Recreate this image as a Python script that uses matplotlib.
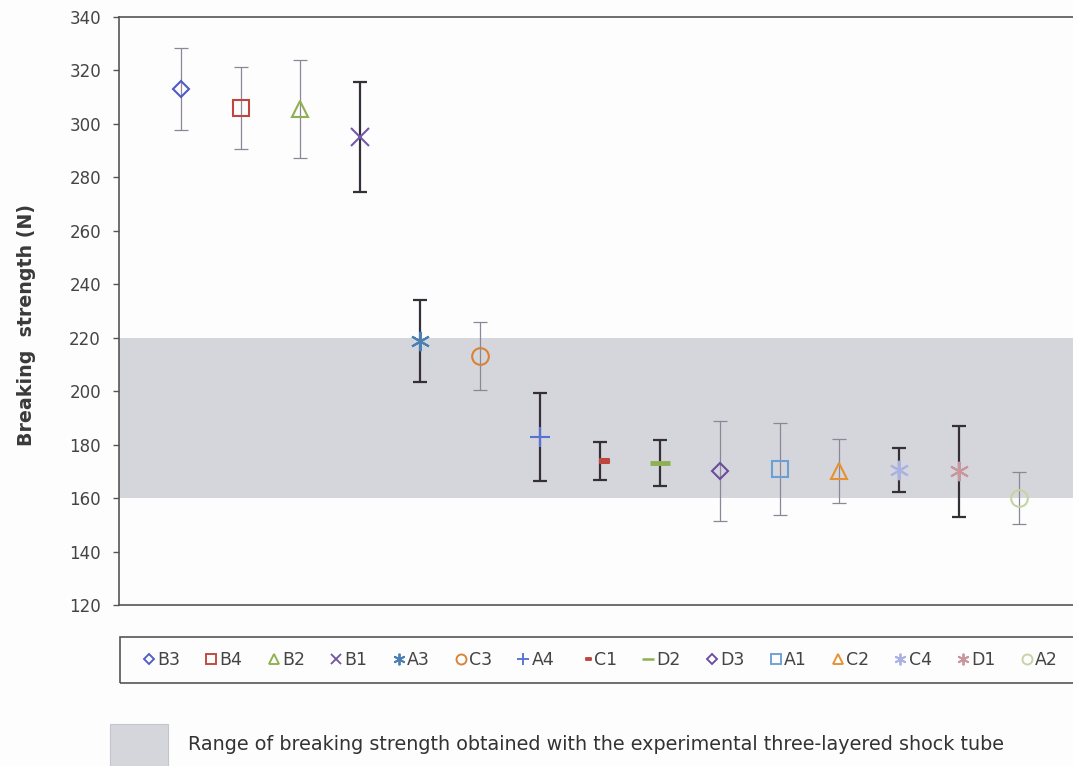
import numpy as np
import matplotlib.pyplot as plt
from matplotlib.path import Path
from matplotlib.patches import Rectangle

# sample names, mean breaking strength and standard deviation (N)
samples = ["B3", "B4", "B2", "B1", "A3", "C3", "A4", "C1", "D2", "D3", "A1", "C2", "C4", "D1", "A2"]
strength = [313, 306, 305.6, 295, 218.8, 213.2, 183, 174, 173, 170, 171, 170, 170.5, 170, 160]
std_dev = [15.3, 15.4, 18.3, 20.6, 15.3, 12.7, 16.5, 7.1, 8.6, 18.7, 17.2, 12.0, 8.4, 17.0, 9.6]
shock_tube_range = (160, 220)

# little dash sitting right of the point, as in the spreadsheet marker
short_dash = Path([(0, -0.2), (1, -0.2), (1, 0.2), (0, 0.2), (0, -0.2)],
                  [Path.MOVETO, Path.LINETO, Path.LINETO, Path.LINETO, Path.CLOSEPOLY])
asterisk = (6, 2, 0)

styles = {
    "B3": dict(marker="D", color="#4f5cc4", ms=8, filled=False),
    "B4": dict(marker="s", color="#c0453e", ms=11.5, filled=False),
    "B2": dict(marker="^", color="#8fb050", ms=12, filled=False),
    "B1": dict(marker="x", color="#7458a8", ms=13, filled=False),
    "A3": dict(marker=asterisk, color="#4a80b4", ms=14, filled=False),
    "C3": dict(marker="o", color="#d98235", ms=12, filled=False),
    "A4": dict(marker="+", color="#5672d6", ms=14, filled=False),
    "C1": dict(marker=short_dash, color="#c0453e", ms=13, filled=True),
    "D2": dict(marker="_", color="#8fb050", ms=14, filled=False, mew=3.5),
    "D3": dict(marker="D", color="#6a4c9c", ms=8, filled=False),
    "A1": dict(marker="s", color="#6c9fd4", ms=11.5, filled=False),
    "C2": dict(marker="^", color="#e6902e", ms=12, filled=False),
    "C4": dict(marker=asterisk, color="#aab2e4", ms=14, filled=False),
    "D1": dict(marker=asterisk, color="#c8969c", ms=14, filled=False),
    "A2": dict(marker="o", color="#c4d4a4", ms=12, filled=False),
}
# which bars came out dark/thick and which thin/grey
dark_bars = {"B1", "A3", "A4", "C1", "D2", "C4", "D1"}

fig = plt.figure(figsize=(10.73, 7.66), dpi=100)
fig.patch.set_facecolor("#fdfdfd")
ax = fig.add_axes([0.1109, 0.2102, 0.893, 0.7676])
ax.set_facecolor("#fdfdfd")

ax.axhspan(shock_tube_range[0], shock_tube_range[1], color="#d5d6dc", lw=0, zorder=0)

x = np.arange(1, len(samples) + 1)
handles = []
for xi, name, m, s in zip(x, samples, strength, std_dev):
    st = styles[name]
    if name in dark_bars:
        ecol, elw = "#352f38", 1.6
    else:
        ecol, elw = "#8c8696", 0.9
    ax.errorbar(xi, m, yerr=s, fmt="none", ecolor=ecol, elinewidth=elw,
                capsize=5, capthick=elw, zorder=2)
    face = st["color"] if st["filled"] else "none"
    h, = ax.plot(xi, m, linestyle="none", marker=st["marker"], ms=st["ms"],
                 mfc=face, mec=st["color"], mew=st.get("mew", 1.5),
                 label=name, zorder=3)
    handles.append(h)

ax.set_xlim(-0.03, 15.97)
ax.set_ylim(120, 340)
ax.set_yticks(np.arange(120, 341, 20))
ax.set_xticks([])
ax.tick_params(axis="y", direction="out", length=4, width=1, color="#555555",
               labelsize=12, labelcolor="#444444", pad=9)
for side in ["left", "bottom", "top"]:
    ax.spines[side].set_color("#555555")
    ax.spines[side].set_linewidth(1.2)
ax.spines["right"].set_visible(False)
ax.set_ylabel("Breaking  strength (N)", fontsize=13.7, fontweight="bold", color="#3a3a3a")
ax.yaxis.set_label_coords(-0.087, 0.476)

# legend row in a framed box under the plot
fig.patches.append(Rectangle((120 / 1073, 1 - 683 / 766), 960 / 1073, 46 / 766,
                             transform=fig.transFigure, fill=False,
                             edgecolor="#555555", lw=1.2))
small = []
for h in handles:
    hh, = ax.plot([], [], linestyle="none", marker=h.get_marker(),
                  ms=h.get_markersize() * 0.6, mfc=h.get_markerfacecolor(),
                  mec=h.get_markeredgecolor(), mew=min(h.get_markeredgewidth(), 2.0) * 0.9)
    small.append(hh)
fig.legend(small, samples, loc="center left", bbox_to_anchor=(143 / 1073, 1 - 660 / 766),
           ncol=15, frameon=False, fontsize=12.5, handlelength=0.7,
           handletextpad=0.12, columnspacing=1.45, borderpad=0, borderaxespad=0,
           labelcolor="#444444")

# key for the shaded band
fig.patches.append(Rectangle((110 / 1073, 0), 58 / 1073, 42 / 766,
                             transform=fig.transFigure, facecolor="#d5d6dc",
                             edgecolor="#c4c5cc", lw=0.8))
fig.text(188 / 1073, 1 - 745 / 766,
         "Range of breaking strength obtained with the experimental three-layered shock tube",
         fontsize=13.8, color="#333333", va="center", ha="left")

fig.savefig("out.png", dpi=100, facecolor=fig.get_facecolor())
